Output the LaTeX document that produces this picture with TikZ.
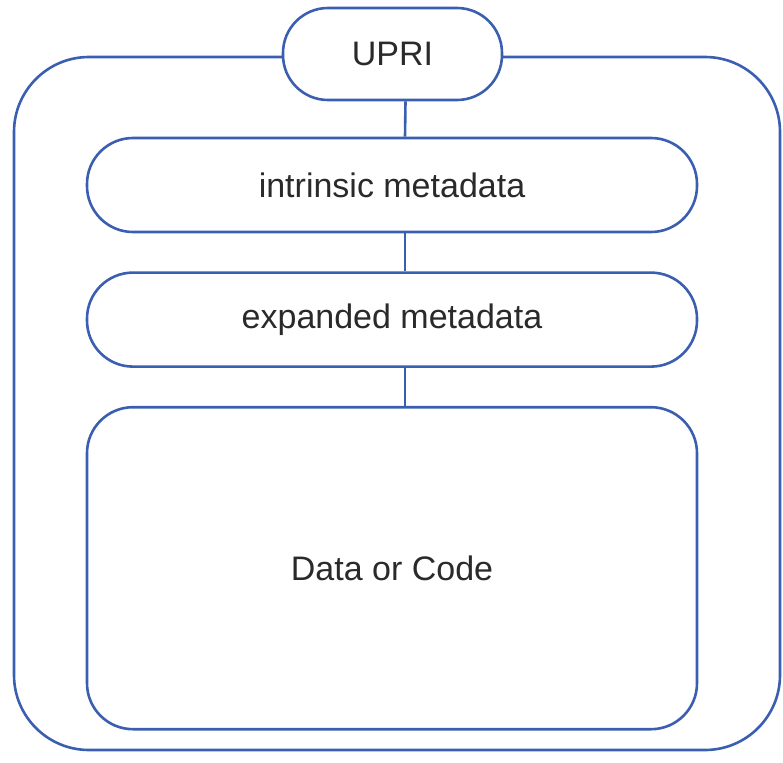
\documentclass[tikz,border=0pt]{standalone}
\usepackage{fontspec}
\setmainfont{Liberation Sans}
\usetikzlibrary{positioning}
\definecolor{UPBlue}{HTML}{3B5FB0}
\definecolor{UPText}{HTML}{2A2A2A}

\begin{document}
\begin{tikzpicture}[
  x=1pt, y=-1pt,
  node distance=38pt,
  layer/.style={draw=UPBlue, line width=2.6pt, fill=white, text=UPText, align=center, minimum width=610pt, minimum height=94pt, rounded corners=46pt, font=\fontsize{34}{40}\selectfont},
  link/.style={draw=UPBlue, line width=2.6pt}
]
\useasboundingbox (0,0) rectangle (783,762);
% outer frame
\node[draw=UPBlue, line width=2.6pt, minimum width=766pt, minimum height=693pt, rounded corners=75pt] (frame) at (397,403.5) {};
\node[layer, minimum width=219pt, minimum height=92pt, rounded corners=45pt] (upri) at (392.5,54) {UPRI};
\node[layer] (intr) at (392,185) {intrinsic metadata};
\node[layer, below=of intr] (expd) {expanded metadata};
\node[layer, below=of expd, minimum height=322pt] (data) {Data or Code};

\draw[link] ([xshift=13pt]upri.south) -- ([xshift=13pt]intr.north);
\draw[link] ([xshift=13pt]intr.south) -- ([xshift=13pt]expd.north);
\draw[link] ([xshift=13pt]expd.south) -- ([xshift=13pt]data.north);
\end{tikzpicture}
\end{document}
